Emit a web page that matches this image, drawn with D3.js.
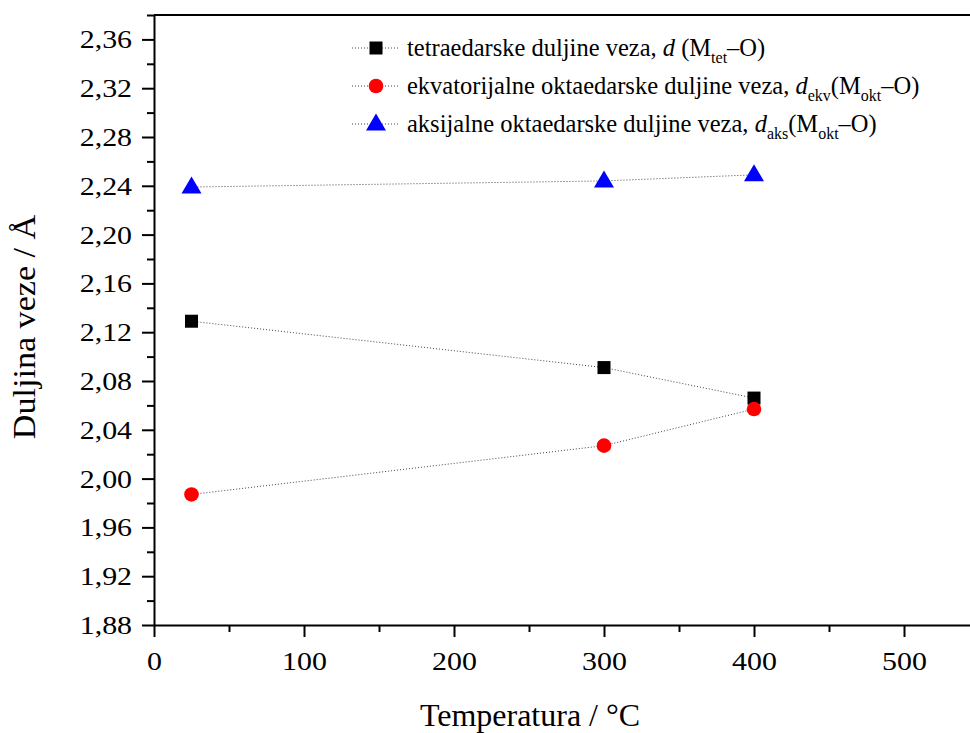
<!DOCTYPE html>
<html><head><meta charset="utf-8">
<script src="https://cdn.jsdelivr.net/npm/d3@7"></script>
<style>body{margin:0;background:#fff}svg{display:block}svg text{font-family:"Liberation Serif","Times New Roman",serif !important;fill:#000}</style>
</head><body>
<svg id="c" width="970" height="733"></svg>
<script>
const temperatures = [25, 300, 400];
const dTet = [2.129, 2.091, 2.066];
const dEkv = [1.987, 2.027, 2.057];
const dAks = [2.239, 2.244, 2.249];
const yMajorTicks = [1.88,1.92,1.96,2.00,2.04,2.08,2.12,2.16,2.20,2.24,2.28,2.32,2.36];
const yMinorTicks = [1.90,1.94,1.98,2.02,2.06,2.10,2.14,2.18,2.22,2.26,2.30,2.34,2.38];
const xMajorTicks = [0,100,200,300,400,500];
const xMinorTicks = [50,150,250,350,450];

const SERIF = '"Liberation Serif","Times New Roman",serif';
const STRETCH = 1.15;
const svg = d3.select("#c");
const x = d3.scaleLinear().domain([0,544]).range([154,970]);
const y = d3.scaleLinear().domain([1.88,2.38]).range([625,15]);
const fmt = v => d3.format(".2f")(v).replace(".", ",");

// minor ticks
svg.append("g").attr("transform","translate(154,0)")
  .call(d3.axisLeft(y).tickValues(yMinorTicks).tickSize(7).tickFormat("").tickSizeOuter(0))
  .call(g=>g.select(".domain").remove())
  .call(g=>g.selectAll("line").attr("stroke-width",2));
svg.append("g").attr("transform","translate(0,625)")
  .call(d3.axisBottom(x).tickValues(xMinorTicks).tickSize(7).tickFormat("").tickSizeOuter(0))
  .call(g=>g.select(".domain").remove())
  .call(g=>g.selectAll("line").attr("stroke-width",2));

// major axes
const yAx = svg.append("g").attr("transform","translate(154,0)")
  .call(d3.axisLeft(y).tickValues(yMajorTicks).tickSize(12).tickFormat(fmt).tickSizeOuter(0));
yAx.attr("font-family", SERIF).attr("font-size", 26);
yAx.select(".domain").attr("stroke-width",2);
yAx.selectAll("line").attr("stroke-width",2);
yAx.selectAll("text").style("font-family",SERIF).style("font-size","26px")
  .attr("x", -22/STRETCH).attr("dy","0.33em").attr("transform",`scale(${STRETCH},1)`);

const xAx = svg.append("g").attr("transform","translate(0,625)")
  .call(d3.axisBottom(x).tickValues(xMajorTicks).tickSize(12).tickFormat(d3.format("d")).tickSizeOuter(0));
xAx.attr("font-family", SERIF).attr("font-size", 26);
xAx.select(".domain").attr("stroke-width",2);
xAx.selectAll("line").attr("stroke-width",2);
xAx.selectAll("text").style("font-family",SERIF).style("font-size","26px")
  .attr("y", 45).attr("dy", 0).attr("transform",`scale(${STRETCH},1)`);

// top frame line
svg.append("line").attr("x1",x(0)).attr("x2",x(544)).attr("y1",y(2.38)).attr("y2",y(2.38))
  .attr("stroke","#000").attr("stroke-width",2);

// axis titles
svg.append("text").attr("x",530).attr("y",726).attr("text-anchor","middle")
  .style("font-family",SERIF).style("font-size","32px")
  .text("Temperatura / °C");
svg.append("text").attr("transform",`translate(35,327) rotate(-90) scale(1.1,1)`).attr("text-anchor","middle")
  .style("font-family",SERIF).style("font-size","31px")
  .text("Duljina veze / Å");

// series
const series = [
  {vals:dTet, color:"#000", shape:"square"},
  {vals:dEkv, color:"#ff0000", shape:"circle"},
  {vals:dAks, color:"#0000ff", shape:"triangle"}
];
const line = d3.line().x(d=>x(d[0])).y(d=>y(d[1]));
function marker(g, shape, color, cx, cy){
  if(shape==="square") g.append("rect").attr("x",cx-6.5).attr("y",cy-6.5).attr("width",13).attr("height",13).attr("fill",color);
  else if(shape==="circle") g.append("circle").attr("cx",cx).attr("cy",cy).attr("r",7.3).attr("fill",color);
  else g.append("path").attr("d",`M${cx},${cy-10.5}L${cx+10},${cy+6.5}L${cx-10},${cy+6.5}Z`).attr("fill",color);
}
series.forEach(s=>{
  const pts = temperatures.map((t,i)=>[t,s.vals[i]]);
  svg.append("path").attr("d",line(pts)).attr("fill","none").attr("stroke","#444")
    .attr("stroke-width",1).attr("stroke-dasharray","1,2");
});
series.forEach(s=>{
  const g = svg.append("g");
  temperatures.forEach((t,i)=>marker(g,s.shape,s.color,x(t),y(s.vals[i])));
});

// legend
const legendParts = [
  [["tetraedarske duljine veza, ",""],["d","i"],[" (M",""],["tet","sub"],["–O)",""]],
  [["ekvatorijalne oktaedarske duljine veza, ",""],["d","i"],["ekv","sub"],["(M",""],["okt","sub"],["–O)",""]],
  [["aksijalne oktaedarske duljine veza, ",""],["d","i"],["aks","sub"],["(M",""],["okt","sub"],["–O)",""]]
];
const legY = [48, 86, 124];
series.forEach((s,i)=>{
  const yy = legY[i];
  svg.append("line").attr("x1",352).attr("x2",398).attr("y1",yy).attr("y2",yy)
    .attr("stroke","#444").attr("stroke-width",1).attr("stroke-dasharray","1,2");
  marker(svg, s.shape, s.color, 376, yy);
  const t = svg.append("text").attr("x",407).attr("y",yy+8)
    .style("font-family",SERIF).style("font-size","24.5px");
  let inSub = false;
  legendParts[i].forEach(p=>{
    const ts = t.append("tspan").text(p[0]);
    if(p[1]==="i") ts.style("font-style","italic");
    if(p[1]==="sub"){ ts.style("font-size","16px").attr("dy", inSub?0:7); inSub = true; }
    else { ts.attr("dy", inSub?-7:0); inSub = false; }
  });
});
</script>
</body></html>
